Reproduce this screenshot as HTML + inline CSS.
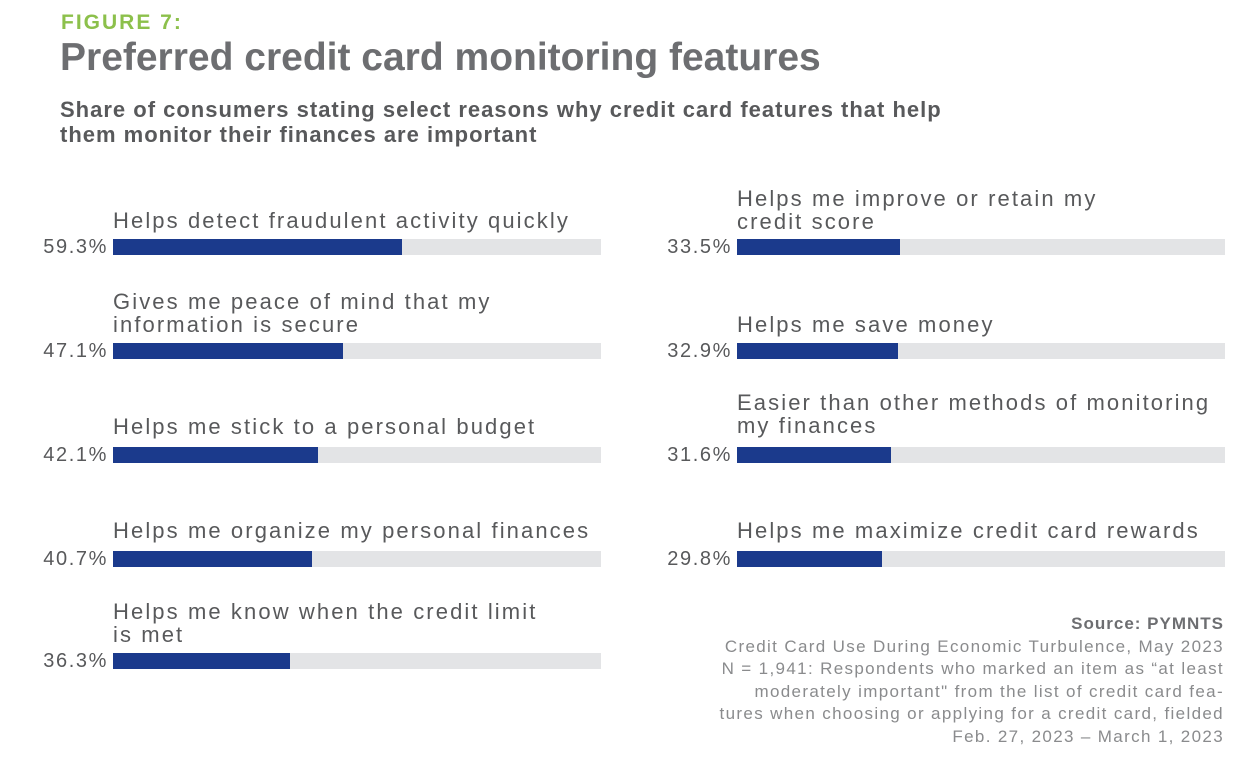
<!DOCTYPE html>
<html><head><meta charset="utf-8"><style>
body{margin:0;width:1246px;height:760px;background:#fff;font-family:"Liberation Sans",sans-serif;position:relative;overflow:hidden}
.a{position:absolute;white-space:nowrap}
.fig{left:61px;top:11px;font-size:21px;font-weight:bold;color:#8cc04b;letter-spacing:2px}
.t{left:60px;top:36px;font-size:39px;font-weight:bold;color:#6d6e71}
.s{left:60px;top:97px;font-size:22px;font-weight:bold;color:#58595b;line-height:25px;letter-spacing:1px}
.l{font-size:22px;color:#58595b;line-height:23px;letter-spacing:2.1px}
.p{font-size:20px;color:#58595b;text-align:right;width:102px;letter-spacing:1.6px}
.tr{position:absolute;height:16px;width:488px;background:#e3e4e6}
.f{height:100%;background:#1b3a8c}
.src{right:22px;top:613px;text-align:right;font-size:17px;color:#8a8b8d;line-height:22.5px;letter-spacing:1.35px}
.src b{letter-spacing:1px}
</style></head><body>
<div class="a fig">FIGURE 7:</div>
<div class="a t">Preferred credit card monitoring features</div>
<div class="a s">Share of consumers stating select reasons why credit card features that help<br>them monitor their finances are important</div>

<div class="a l" style="left:113px;top:209px">Helps detect fraudulent activity quickly</div>
<div class="a p" style="left:6px;top:236px">59.3%</div>
<div class="tr" style="left:113px;top:239px"><div class="f" style="width:59.3%"></div></div>

<div class="a l" style="left:113px;top:290px">Gives me peace of mind that my<br>information is secure</div>
<div class="a p" style="left:6px;top:340px">47.1%</div>
<div class="tr" style="left:113px;top:343px"><div class="f" style="width:47.1%"></div></div>

<div class="a l" style="left:113px;top:415px">Helps me stick to a personal budget</div>
<div class="a p" style="left:6px;top:444px">42.1%</div>
<div class="tr" style="left:113px;top:447px"><div class="f" style="width:42.1%"></div></div>

<div class="a l" style="left:113px;top:519px">Helps me organize my personal finances</div>
<div class="a p" style="left:6px;top:548px">40.7%</div>
<div class="tr" style="left:113px;top:551px"><div class="f" style="width:40.7%"></div></div>

<div class="a l" style="left:113px;top:600px">Helps me know when the credit limit<br>is met</div>
<div class="a p" style="left:6px;top:650px">36.3%</div>
<div class="tr" style="left:113px;top:653px"><div class="f" style="width:36.3%"></div></div>

<div class="a l" style="left:737px;top:187px">Helps me improve or retain my<br>credit score</div>
<div class="a p" style="left:630px;top:236px">33.5%</div>
<div class="tr" style="left:737px;top:239px"><div class="f" style="width:33.5%"></div></div>

<div class="a l" style="left:737px;top:313px">Helps me save money</div>
<div class="a p" style="left:630px;top:340px">32.9%</div>
<div class="tr" style="left:737px;top:343px"><div class="f" style="width:32.9%"></div></div>

<div class="a l" style="left:737px;top:391px">Easier than other methods of monitoring<br>my finances</div>
<div class="a p" style="left:630px;top:444px">31.6%</div>
<div class="tr" style="left:737px;top:447px"><div class="f" style="width:31.6%"></div></div>

<div class="a l" style="left:737px;top:519px">Helps me maximize credit card rewards</div>
<div class="a p" style="left:630px;top:548px">29.8%</div>
<div class="tr" style="left:737px;top:551px"><div class="f" style="width:29.8%"></div></div>

<div class="a src"><b style="color:#6d6e71">Source: PYMNTS</b><br>Credit Card Use During Economic Turbulence, May 2023<br>N = 1,941: Respondents who marked an item as “at least<br>moderately important" from the list of credit card fea-<br>tures when choosing or applying for a credit card, fielded<br>Feb. 27, 2023 – March 1, 2023</div>
</body></html>
